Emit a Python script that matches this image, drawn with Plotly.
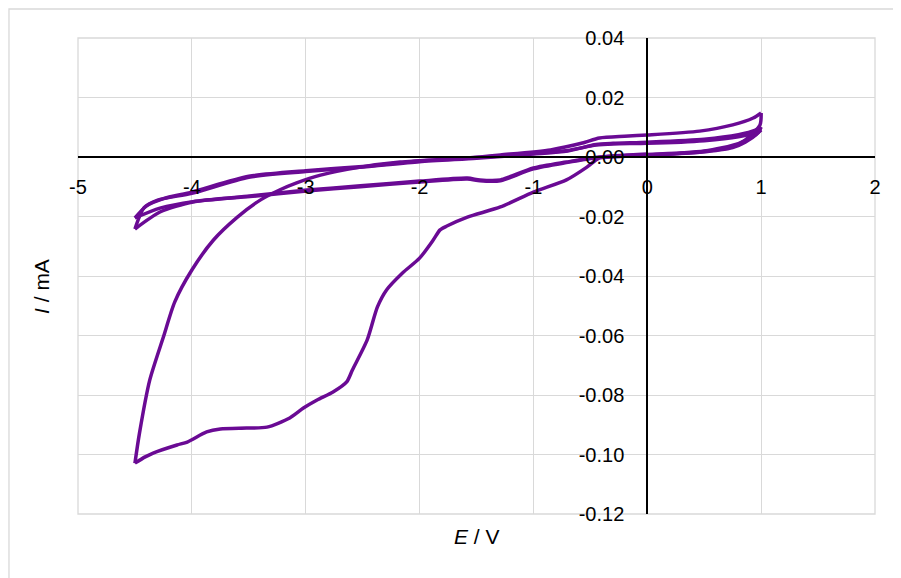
import plotly.graph_objects as go

# ---------------- data (E in V, I in mA) ----------------
# scan 1, cathodic (large reduction wave)
cath1_E = [0.00, -0.24, -0.42, -0.53, -0.71, -1.00, -1.29, -1.58, -1.76, -1.82, -1.88, -2.00, -2.15,
           -2.29, -2.37, -2.46, -2.59, -2.64, -2.76, -2.90, -3.02, -3.14, -3.34, -3.52, -3.75, -3.87,
           -4.04, -4.13, -4.34, -4.41, -4.50]
cath1_I = [0.0010, 0.0005, -0.0003, -0.0034, -0.0077, -0.0118, -0.0168, -0.0202, -0.0232, -0.0245,
           -0.0279, -0.0340, -0.0390, -0.0447, -0.0504, -0.0615, -0.0716, -0.0756, -0.0790, -0.0817,
           -0.0844, -0.0877, -0.0908, -0.0911, -0.0914, -0.0924, -0.0958, -0.0968, -0.0995, -0.1008,
           -0.1029]
# scan 1, anodic
anod1_E = [-4.50, -4.46, -4.37, -4.25, -4.15, -4.00, -3.81, -3.60, -3.40, -3.23, -3.08, -2.87, -2.52,
           -2.17, -1.58, -1.29, -0.85, -0.57, -0.42, -0.20, 0.00, 0.46, 0.75, 0.93, 1.00]
anod1_I = [-0.1029, -0.0928, -0.0750, -0.0605, -0.0487, -0.0380, -0.0279, -0.0202, -0.0145, -0.0111,
           -0.0087, -0.0061, -0.0034, -0.0017, -0.0003, 0.0007, 0.0024, 0.0047, 0.0064, 0.0070,
           0.0074, 0.0087, 0.0108, 0.0131, 0.0148]
# scan 2, cathodic
cath2_E = [1.00, 0.99, 0.86, 0.75, 0.46, 0.00, -0.42, -0.71, -1.00, -1.21, -1.29, -1.47, -1.58,
           -2.00, -2.52, -2.99, -3.49, -3.99, -4.28, -4.50]
cath2_I = [0.0148, 0.0108, 0.0057, 0.0034, 0.0017, 0.0007, 0.0000, -0.0017, -0.0037, -0.0067,
           -0.0077, -0.0077, -0.0071, -0.0081, -0.0097, -0.0111, -0.0131, -0.0151, -0.0185, -0.0242]
# scan 2, anodic
anod2_E = [-4.50, -4.42, -4.30, -4.00, -3.50, -3.00, -2.50, -2.00, -1.50, -1.00, -0.70, -0.45,
           -0.30, 0.00, 0.50, 0.80, 0.95, 1.00]
anod2_I = [-0.0242, -0.0170, -0.0145, -0.0122, -0.0068, -0.0049, -0.0034, -0.0016, -0.0004, 0.0010,
           0.0020, 0.0042, 0.0046, 0.0050, 0.0060, 0.0075, 0.0090, 0.0101]
# scan 3, cathodic
cath3_E = [1.00, 0.97, 0.86, 0.75, 0.46, 0.00, -0.42, -0.71, -1.00, -1.21, -1.29, -1.47, -1.58,
           -2.00, -2.52, -2.99, -3.49, -3.99, -4.28, -4.50]
cath3_I = [0.0101, 0.0080, 0.0050, 0.0032, 0.0016, 0.0006, -0.0002, -0.0019, -0.0040, -0.0070,
           -0.0080, -0.0080, -0.0074, -0.0084, -0.0100, -0.0114, -0.0133, -0.0150, -0.0172, -0.0205]
# scan 3, anodic
anod3_E = [-4.50, -4.40, -4.25, -4.00, -3.50, -3.00, -2.50, -2.00, -1.50, -1.00, -0.70, -0.45,
           -0.30, 0.00, 0.50, 0.80, 0.95, 1.00]
anod3_I = [-0.0205, -0.0165, -0.0140, -0.0118, -0.0065, -0.0046, -0.0032, -0.0013, -0.0002, 0.0012,
           0.0022, 0.0040, 0.0044, 0.0046, 0.0055, 0.0068, 0.0082, 0.0091]
# final return to start potential
cath4_E = [1.00, 0.95, 0.80, 0.50, 0.00]
cath4_I = [0.0091, 0.0075, 0.0045, 0.0020, 0.0008]

x_ticks = [-5, -4, -3, -2, -1, 0, 1, 2]
x_tick_labels = ["-5", "-4", "-3", "-2", "-1", "0", "1", "2"]
y_ticks = [-0.12, -0.10, -0.08, -0.06, -0.04, -0.02, 0.00, 0.02, 0.04]
y_tick_labels = ["-0.12", "-0.10", "-0.08", "-0.06", "-0.04", "-0.02", "0.00", "0.02", "0.04"]

x_title = "<i>E</i> / V"
y_title = "<i>I</i> / mA"

segments = [(cath1_E, cath1_I), (anod1_E, anod1_I), (cath2_E, cath2_I), (anod2_E, anod2_I),
            (cath3_E, cath3_I), (anod3_E, anod3_I), (cath4_E, cath4_I)]

LINE_COLOR = "#6a0a94"
GRID = "#d9d9d9"
FONT = "Liberation Sans"

fig = go.Figure()
# one series, drawn segment by segment (so the sweep reversals stay sharp)
for e, i in segments:
    fig.add_trace(go.Scatter(x=e, y=i, mode="lines",
                             line=dict(color=LINE_COLOR, width=3.5, shape="spline", smoothing=0.7),
                             showlegend=False, hoverinfo="skip"))

x_min, x_max = -5, 2
y_min, y_max = -0.12, 0.04

# the page body adds an 8 px offset, so the figure is 8 px smaller and margins shifted
fig.update_layout(
    width=893, height=570,
    margin=dict(l=70, r=26, t=30, b=64, autoexpand=False),
    paper_bgcolor="white", plot_bgcolor="white",
    font=dict(family=FONT, size=20, color="#000000"),
    xaxis=dict(range=[x_min, x_max], tickvals=x_ticks, ticktext=x_tick_labels,
               showgrid=True, gridcolor=GRID, gridwidth=1.3, zeroline=False,
               showline=True, linecolor="black", linewidth=2,
               anchor="free", position=(0 - y_min) / (y_max - y_min),
               ticks="outside", ticklen=12, tickcolor="rgba(0,0,0,0)",
               tickfont=dict(family=FONT, size=20, color="#000000")),
    yaxis=dict(range=[y_min, y_max], tickvals=y_ticks, ticktext=y_tick_labels,
               showgrid=True, gridcolor=GRID, gridwidth=1.3, zeroline=False,
               showline=True, linecolor="black", linewidth=2,
               anchor="free", position=(0 - x_min) / (x_max - x_min),
               ticks="outside", ticklen=18, tickcolor="rgba(0,0,0,0)",
               tickfont=dict(family=FONT, size=20, color="#000000")),
    shapes=[
        dict(type="rect", xref="x domain", yref="y domain", x0=0, y0=0, x1=1, y1=1,
             line=dict(color=GRID, width=1.3), layer="below"),
        dict(type="rect", xref="paper", yref="paper", x0=-0.0866, y0=-0.3, x1=1.2, y1=1.0609,
             line=dict(color=GRID, width=1.3), layer="below"),
    ],
    annotations=[
        dict(text=x_title, xref="paper", yref="paper", x=0.5006, y=-0.0483,
             xanchor="center", yanchor="middle", showarrow=False,
             font=dict(family=FONT, size=21, color="#000000")),
        dict(text=y_title, xref="paper", yref="paper", x=-0.0452, y=0.479, textangle=-90,
             xanchor="center", yanchor="middle", showarrow=False,
             font=dict(family=FONT, size=21, color="#000000")),
    ],
)

fig.write_html("out.html")
